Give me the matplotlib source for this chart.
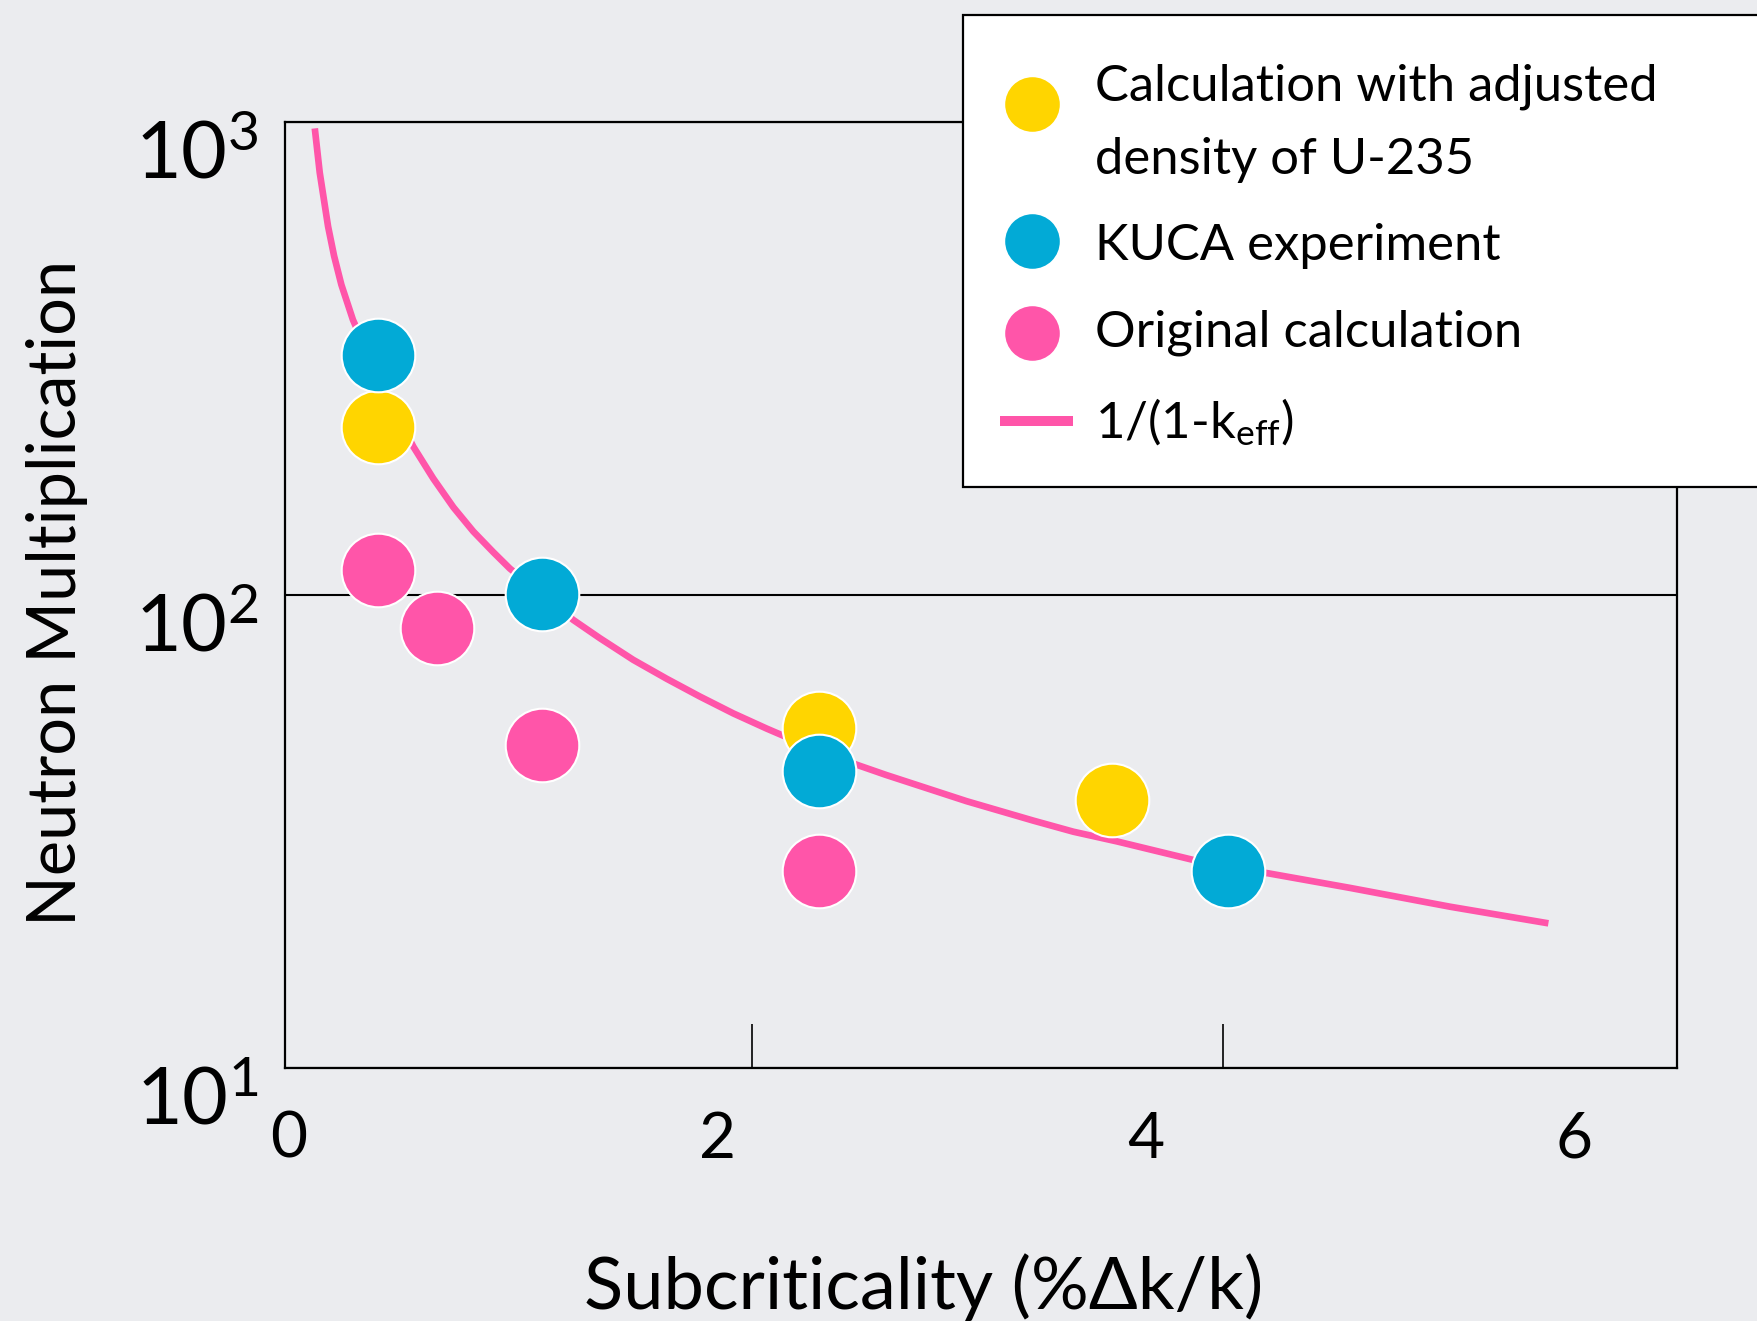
import matplotlib
matplotlib.use('Agg')
import matplotlib.pyplot as plt
from matplotlib.patches import Rectangle
from matplotlib.ticker import NullLocator
import matplotlib.transforms as mtrans

plt.rcParams['font.family'] = ['Lato', 'DejaVu Sans']
plt.rcParams['mathtext.fontset'] = 'custom'
plt.rcParams['mathtext.rm'] = 'Lato'
plt.rcParams['mathtext.it'] = 'Lato:italic'
plt.rcParams['mathtext.bf'] = 'Lato:bold'

# ---------------- data ----------------
adjusted_x = [0.415, 2.474, 3.843]
adjusted_y = [226.5, 52.3, 36.9]

kuca_x = [0.415, 1.179, 2.474, 4.385]
kuca_y = [321, 100.3, 42.3, 26.1]

original_x = [0.416, 0.689, 1.182, 2.474]
original_y = [112.7, 84.9, 48.1, 26.1]

curve_x = [0.12, 0.143, 0.182, 0.21, 0.244, 0.298, 0.415, 0.580, 0.673, 0.767,
           0.860, 0.953, 1.031, 1.179, 1.327, 1.451, 1.607, 1.763, 1.918, 2.074,
           2.230, 2.47, 2.650, 2.786, 3.163, 3.474, 3.661, 3.864, 4.221, 4.564,
           4.953, 5.42, 5.879]
curve_y = [967, 780, 600, 520, 452, 381, 288, 205.5, 176, 153,
           136, 123, 113.5, 100.2, 88.4, 80.9, 72.8, 66.4, 60.9, 56.1,
           52.1, 46.8, 43.7, 41.6, 36.6, 33.3, 31.55, 30.1, 27.5, 25.8,
           24.0, 21.9, 20.2]

x_tick_values = [0, 2, 4, 6]
x_tick_labels = ['0', '2', '4', '6']
x_minor_marks = [2.161, 4.358]
y_tick_values = [10, 100, 1000]

labels = ['Calculation with adjusted\ndensity of U-235',
          'KUCA experiment',
          'Original calculation',
          '1/(1-k$_{\\mathrm{eff}}$)']

# ---------------- style ----------------
BG = '#EBECEF'
YELLOW = '#FFD500'
BLUE = '#02AAD6'
PINK = '#FF55A9'

W, H = 1757, 1321
fig = plt.figure(figsize=(W / 100, H / 100), dpi=100, facecolor=BG)
ax = fig.add_axes([284.7 / W, 1 - 1067.8 / H, (1676.7 - 284.7) / W, (1067.8 - 121.5) / H])
ax.set_facecolor(BG)
ax.set_yscale('log')
ax.set_xlim(-0.0205, 6.478)
ax.set_ylim(10, 1000)

line, = ax.plot(curve_x, curve_y, color=PINK, lw=4.8, zorder=2, label=labels[3],
                solid_joinstyle='round', solid_capstyle='butt')
ms = 53 ** 2
sc_y = ax.scatter(adjusted_x, adjusted_y, s=ms, c=YELLOW, edgecolors='white',
                  linewidths=1.5, zorder=3, label=labels[0])
sc_b = ax.scatter(kuca_x, kuca_y, s=ms, c=BLUE, edgecolors='white',
                  linewidths=1.5, zorder=4, label=labels[1])
sc_p = ax.scatter(original_x, original_y, s=ms, c=PINK, edgecolors='white',
                  linewidths=1.5, zorder=3, label=labels[2])

for sp in ax.spines.values():
    sp.set_linewidth(1.6)
    sp.set_color('black')

ax.set_xticks(x_tick_values)
ax.set_xticklabels(x_tick_labels)
ax.set_xticks(x_minor_marks, minor=True)
ax.tick_params(axis='x', which='major', length=0, pad=31, labelsize=46)
ax.tick_params(axis='x', which='minor', direction='in', length=32, width=1.2, color='black')

ax.set_yticks(y_tick_values)
ax.yaxis.set_minor_locator(NullLocator())
ax.tick_params(axis='y', which='major', length=0, pad=19, labelsize=57)
ax.yaxis.grid(True, which='major', color='black', lw=1.5)

ax.set_xlabel('Subcriticality (%Δk/k)', fontsize=52, va='baseline')
ax.xaxis.set_label_coords(0.4589, -0.2546)
ax.set_ylabel('Neutron Multiplication', fontsize=48, va='center')
ax.yaxis.set_label_coords(-0.1633, 0.5017)

off = mtrans.ScaledTranslation(0, -20 / 72, fig.dpi_scale_trans)
for lbl in ax.get_yticklabels():
    lbl.set_transform(lbl.get_transform() + off)

# legend box (extends past the right edge, as in the reference)
fig.add_artist(Rectangle((962.9 / W, 1 - 486.7 / H), (W + 20 - 962.9) / W, (486.7 - 15) / H,
                         transform=fig.transFigure, facecolor='white',
                         edgecolor='black', lw=1.6, zorder=4))
leg = fig.legend([sc_y, sc_b, sc_p, line], labels, loc='upper left',
                 bbox_to_anchor=(1000 / W, 1 - 63 / H), bbox_transform=fig.transFigure,
                 frameon=False, fontsize=36.5, markerscale=0.77, handlelength=1.44,
                 handletextpad=0.43, borderpad=0, borderaxespad=0, labelspacing=0.8)
leg.set_zorder(5)
leg_line = leg.get_lines()[0]
leg_line.set_linewidth(7.2)
leg_line.set_solid_capstyle('butt')
leg.get_texts()[0].set_linespacing(1.73)
# the first marker sits beside the first text line in the reference
h0 = leg.legend_handles[0]
offs = h0.get_offsets().copy()
offs[:, 0] -= 3
offs[:, 1] += 17
h0.set_offsets(offs)
h1 = leg.legend_handles[1]
o1 = h1.get_offsets().copy()
o1[:, 0] -= 3
o1[:, 1] += 4
h1.set_offsets(o1)
h2 = leg.legend_handles[2]
o2 = h2.get_offsets().copy()
o2[:, 0] -= 3
h2.set_offsets(o2)

fig.savefig('out.png', dpi=100, facecolor=BG)
